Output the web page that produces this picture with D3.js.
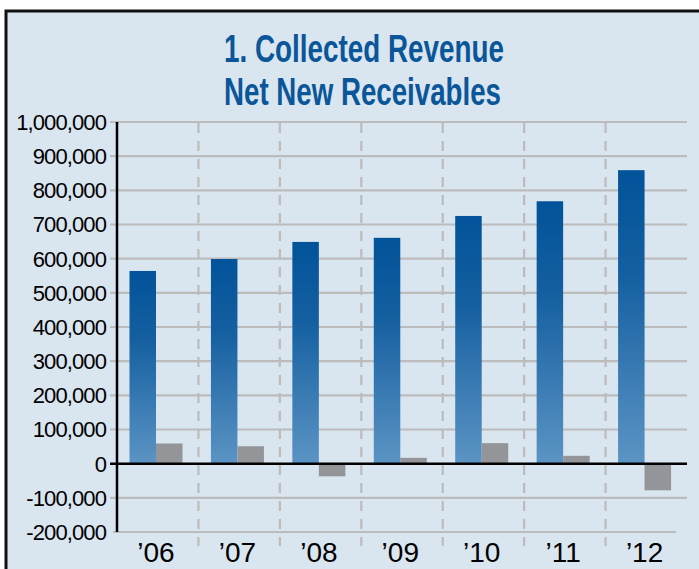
<!DOCTYPE html>
<html><head><meta charset="utf-8">
<script src="https://cdn.jsdelivr.net/npm/d3@7"></script>
<style>html,body{margin:0;padding:0;background:#fff;}svg{display:block;}</style>
</head><body>
<script>
const categories = ["’06","’07","’08","’09","’10","’11","’12"];
const collectedRevenue = [564000, 599000, 649000, 661000, 725000, 768000, 859000];
const netNewReceivables = [59000, 51000, -37000, 17000, 60000, 23000, -78000];
const yTicks = [-200000,-100000,0,100000,200000,300000,400000,500000,600000,700000,800000,900000,1000000];
const titleLines = ["1. Collected Revenue","Net New Receivables"];

const W=699,H=569;
const svg=d3.select("body").append("svg").attr("width",W).attr("height",H);
const defs=svg.append("defs");
const grad=defs.append("linearGradient").attr("id","blueGrad").attr("x1",0).attr("y1",0).attr("x2",0).attr("y2",1);
grad.append("stop").attr("offset","0%").attr("stop-color","#02539a");
grad.append("stop").attr("offset","35%").attr("stop-color","#145fa0");
grad.append("stop").attr("offset","100%").attr("stop-color","#5b94c4");

// frame
svg.append("rect").attr("x",6).attr("y",11).attr("width",W+10).attr("height",H+10)
  .attr("fill","#d9e5ef").attr("stroke","#111").attr("stroke-width",3);

// title
const title=svg.append("text")
  .attr("font-family","Liberation Sans, Arial, sans-serif").attr("font-weight","bold")
  .attr("font-size",38).attr("fill","#0a5699");
titleLines.forEach((t,i)=>{
  title.append("tspan").attr("x",224).attr("y",[62,105][i])
    .attr("textLength",[280,277][i]).attr("lengthAdjust","spacingAndGlyphs").text(t);
});

const y=d3.scaleLinear().domain([-200000,1000000]).range([532,122]);
const x0=d3.scaleBand().domain(categories).range([117,687]).padding(0);
const x1=d3.scaleBand().domain(["rev","net"]).range([12.5,12.5+53]).padding(0);

// horizontal grid
yTicks.forEach(v=>{
  if(v===0) return;
  const isBottom = v===yTicks[0];
  svg.append("line").attr("x1",isBottom?113:110).attr("x2",isBottom?676:687)
    .attr("y1",y(v)).attr("y2",y(v)).attr("stroke","#bcbcbc").attr("stroke-width",2.2);
});
// dashed separators
categories.slice(1).forEach(c=>{
  svg.append("line").attr("x1",x0(c)).attr("x2",x0(c)).attr("y1",y(1000000)+1).attr("y2",546)
    .attr("stroke","#bcbcbc").attr("stroke-width",2.2).attr("stroke-dasharray","10,8");
});

// bars
const g=svg.append("g");
categories.forEach((c,i)=>{
  const rv=collectedRevenue[i];
  g.append("rect").attr("x",x0(c)+x1("rev")).attr("width",x1.bandwidth())
    .attr("y",y(rv)).attr("height",y(0)-y(rv)).attr("fill","url(#blueGrad)");
  const nv=netNewReceivables[i];
  g.append("rect").attr("x",x0(c)+x1("net")).attr("width",x1.bandwidth())
    .attr("y",y(Math.max(0,nv))).attr("height",Math.abs(y(nv)-y(0))).attr("fill","#939598");
});

// zero line
svg.append("line").attr("x1",110).attr("x2",687).attr("y1",y(0)).attr("y2",y(0))
  .attr("stroke","#000").attr("stroke-width",2.5);
// y axis line
svg.append("line").attr("x1",117).attr("x2",117).attr("y1",y(1000000)).attr("y2",y(-200000))
  .attr("stroke","#000").attr("stroke-width",2.5);

// y labels
const fmt=v=>d3.format(",")(v).replace("−","-");
yTicks.forEach(v=>{
  svg.append("text").attr("x",106).attr("y",y(v)).attr("dy","0.36em")
    .attr("text-anchor","end").attr("font-family","Liberation Sans, Arial, sans-serif")
    .attr("font-size",22).attr("letter-spacing","-0.9").attr("fill","#000").text(fmt(v));
});
// x labels
categories.forEach(c=>{
  svg.append("text").attr("x",x0(c)+x1("rev")+x1.bandwidth()).attr("y",562)
    .attr("text-anchor","middle").attr("font-family","Liberation Sans, Arial, sans-serif")
    .attr("font-size",28).attr("fill","#000").text(c);
});
</script>
</body></html>
